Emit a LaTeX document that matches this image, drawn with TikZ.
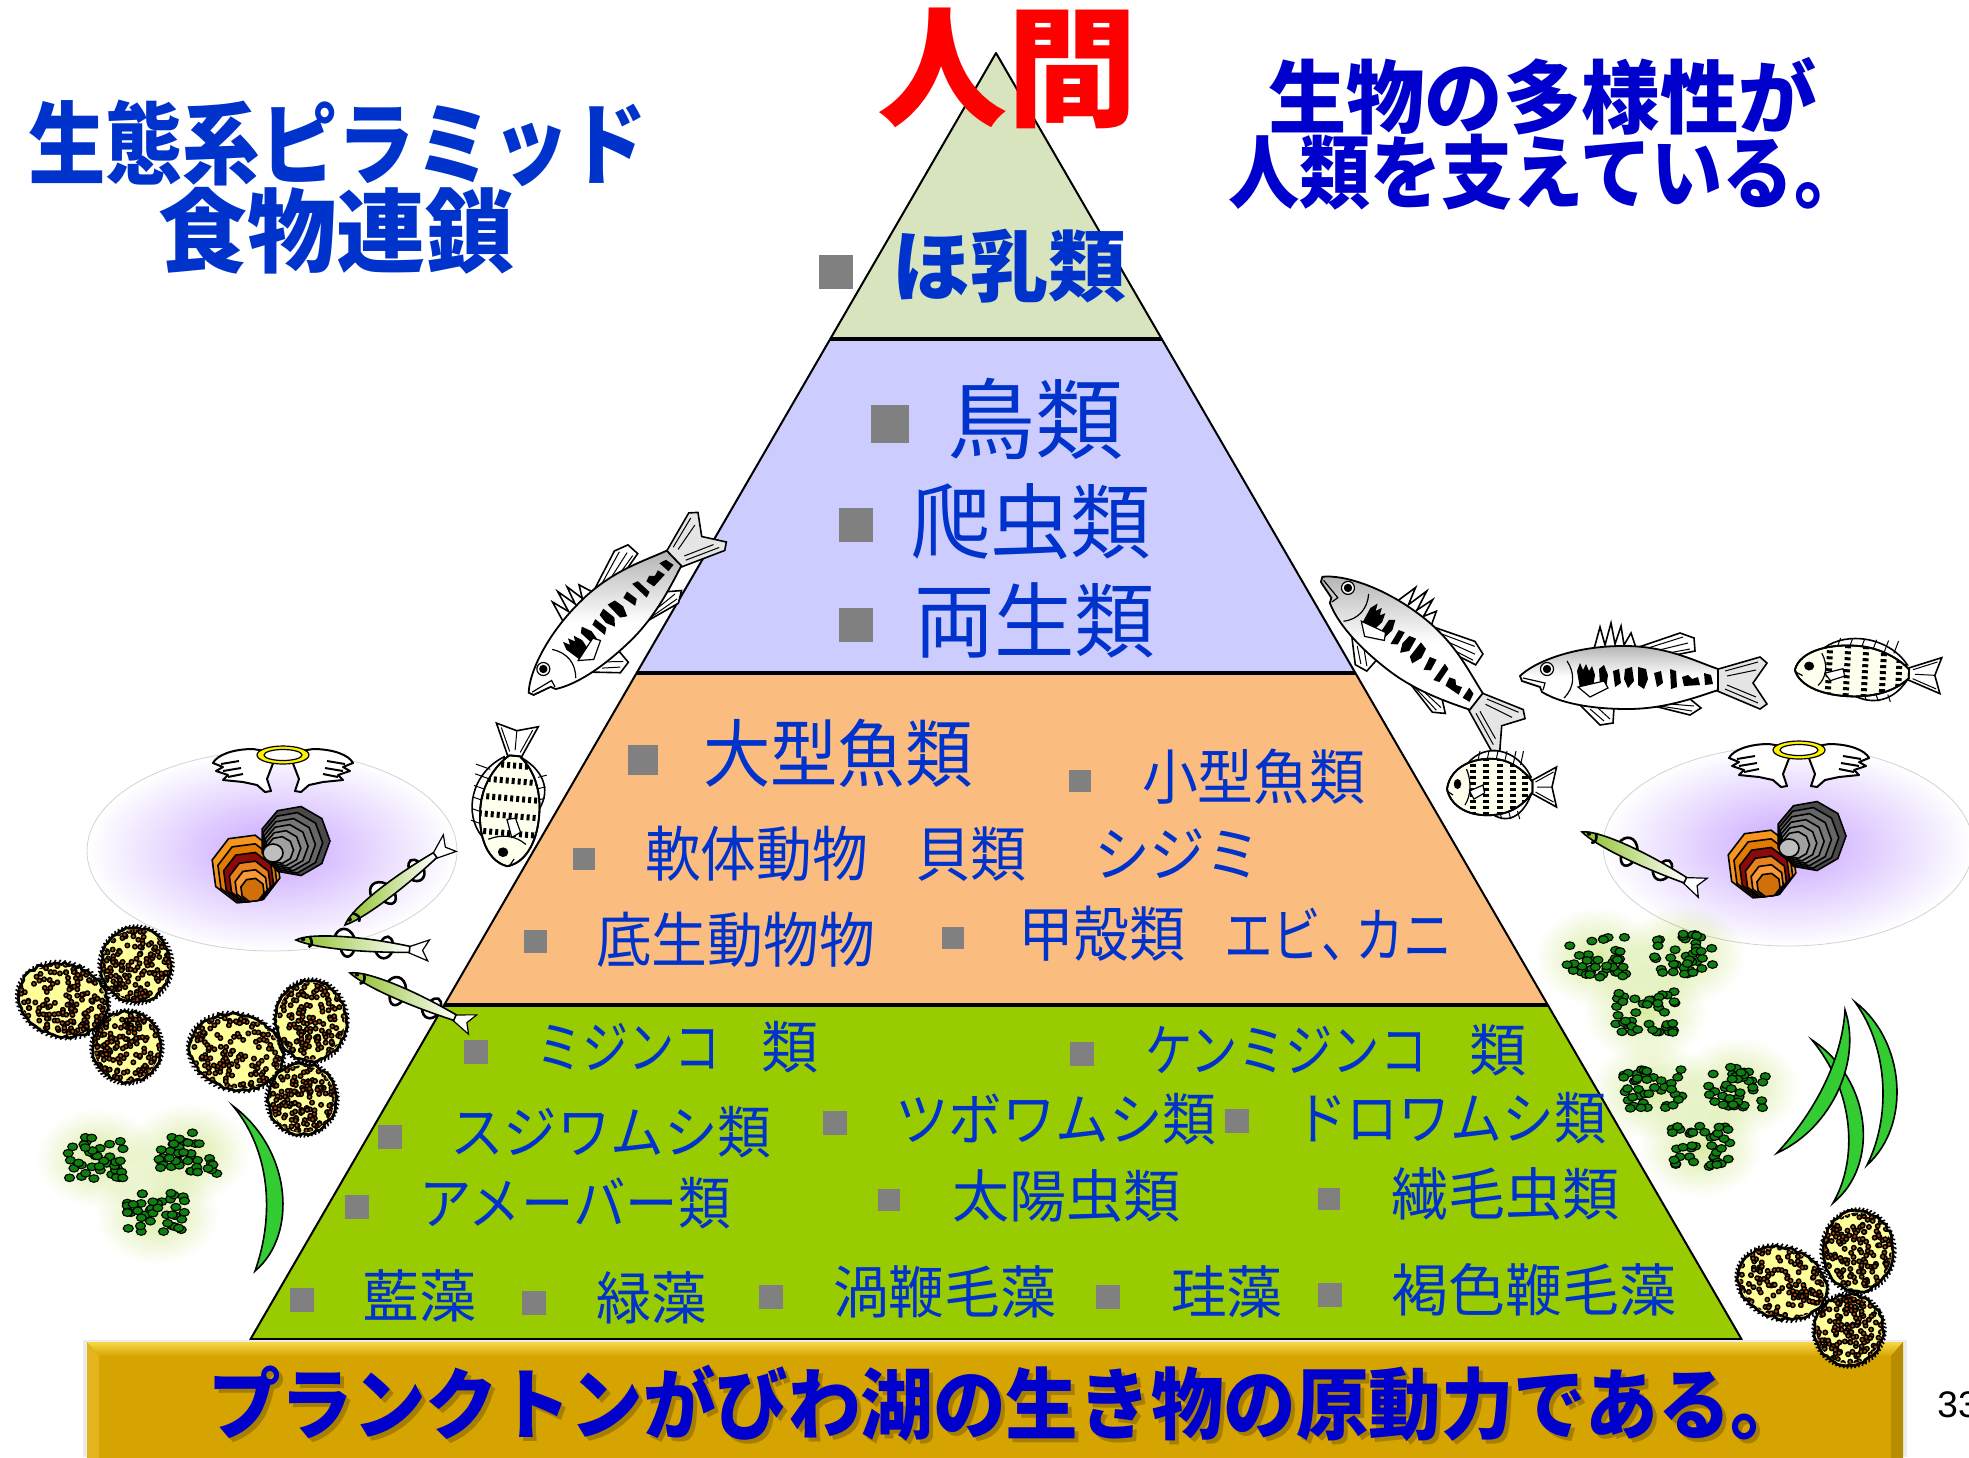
\documentclass[tikz,border=0pt]{standalone}
\usepackage{fontspec}
\usepackage{graphicx}
\newfontfamily\jp{Noto Sans CJK JP}
\newfontfamily\latin{Liberation Sans}
\usetikzlibrary{decorations.pathmorphing}

\definecolor{tblue}{HTML}{0033CC}
\definecolor{dblue}{HTML}{0000CC}
\definecolor{tierA}{HTML}{D7E4BD}
\definecolor{tierB}{HTML}{CCCCFF}
\definecolor{tierC}{HTML}{FBBC80}
\definecolor{tierD}{HTML}{99CC00}
\definecolor{sqgray}{HTML}{808080}
\definecolor{gold}{HTML}{D6A400}
\definecolor{goldtop}{HTML}{F6D84A}
\definecolor{goldleft}{HTML}{E4B41E}
\definecolor{goldright}{HTML}{B88C00}
\definecolor{blobyellow}{HTML}{FFFF99}
\definecolor{dotbrown}{HTML}{B04C00}
\definecolor{dotgreen}{HTML}{0F800F}
\definecolor{clumpglow}{HTML}{D8EBA0}
\definecolor{leafgreen}{HTML}{33CC33}
\definecolor{ayugreen}{HTML}{8CBF26}
\definecolor{ivory}{HTML}{FFFFEE}
\definecolor{glowviolet}{HTML}{C8A6FF}
\definecolor{shO1}{HTML}{F7961E}
\definecolor{shO2}{HTML}{E37A00}
\definecolor{shO3}{HTML}{8B0A0A}
\definecolor{shO4}{HTML}{E8801E}
\definecolor{shO5}{HTML}{F79A35}
\definecolor{shO6}{HTML}{D0700A}
\definecolor{shG1}{HTML}{4A4A4A}
\definecolor{shG2}{HTML}{666666}
\definecolor{shG3}{HTML}{777777}
\definecolor{shG4}{HTML}{858585}
\definecolor{shG5}{HTML}{939393}
\definecolor{shG6}{HTML}{A0A0A0}
\definecolor{shHinge}{HTML}{BEBEBE}

% horizontal squeeze of a text
\newcommand\hs[2]{\scalebox{#1}[1]{#2}}

% spiky colony of cells: cx, cy, rx, ry, rotation, seed
\newcommand\blob[6]{%
  \begin{scope}[shift={(#1,#2)}, rotate=#5]
    \foreach \t in {0,6,...,354}
      \draw[line width=0.8pt] (\t:#3 and #4) -- (\t+3:#3+3.5 and #4+3.5);
    \draw[line width=1.4pt, fill=blobyellow, decorate,
          decoration={random steps, segment length=2pt, amplitude=0.7pt}]
      (0,0) ellipse [x radius=#3, y radius=#4];
    \begin{scope}
      \clip (0,0) ellipse [x radius=#3-1.5, y radius=#4-1.5];
      \pgfmathsetseed{#6}
      \foreach \k in {1,...,190} {
        \pgfmathsetmacro\u{rand*#3}
        \pgfmathsetmacro\v{rand*#4}
        \filldraw[fill=dotbrown, draw=black, line width=0.75pt] (\u,\v) circle (2.2);
      }
    \end{scope}
  \end{scope}}

% soft glow behind a clump of green cells
\newcommand\clumpglow[2]{%
  \shade[inner color=clumpglow, outer color=white] (#1,#2) ellipse [x radius=62, y radius=50];}

% clump of green cells: cx, cy, seed
\newcommand\clump[3]{%
  \pgfmathsetseed{#3}
  \foreach \k in {1,...,40} {
    \pgfmathsetmacro\u{#1+rand*30}
    \pgfmathsetmacro\v{#2+rand*21}
    \filldraw[fill=dotgreen, draw=black, line width=0.55pt] (\u,\v) ellipse [x radius=5, y radius=3.8];
  }}

\tikzset{
  lbl/.style={anchor=west, inner sep=0pt, outer sep=0pt, text=tblue},
  tierfour/.style={lbl, font=\jp\fontsize{28.5pt}{30pt}\selectfont},
  tierthree/.style={lbl, font=\jp\fontsize{30pt}{32pt}\selectfont},
  tiertwo/.style={lbl, font=\jp\fontsize{41pt}{44pt}\selectfont},
  heavy/.style={anchor=west, inner sep=0pt, outer sep=0pt, font=\jp\bfseries\fontsize{#1}{#1}\selectfont},
  sqmark/.style={fill=sqgray, inner sep=0pt, minimum size=#1},
  rim/.style={line width=1pt, line join=round},
  divider/.style={line width=1.6pt},
  % large black bass, snout at the origin, body along +x
  bass/.pic={
    \draw[line width=0.8pt, fill=gray!20] (195,-5) -- (240,-18) -- (247,-12) -- (233,8) -- (247,29) -- (240,34) -- (195,15) -- cycle;
    \draw[line width=0.5pt] (205,-4) -- (238,-13) (207,1) -- (236,-5) (207,10) -- (236,22) (205,14) -- (238,28);
    \draw[line width=0.8pt, fill=white] (74,-26) -- (80,-48) -- (85,-30) -- (91,-52) -- (95,-31) -- (101,-49) -- (104,-30) -- (111,-42) -- (116,-27) -- cycle;
    \draw[line width=0.8pt, fill=white] (116,-27) -- (160,-42) -- (174,-37) -- (175,-24) -- (150,-19) -- cycle;
    \draw[line width=0.5pt] (128,-27) -- (163,-38) (135,-24) -- (168,-32) (143,-21) -- (170,-26);
    \draw[line width=0.8pt, fill=white] (130,30) -- (170,40) -- (181,33) -- (170,24) -- cycle;
    \draw[line width=0.5pt] (140,31) -- (172,36) (150,29) -- (174,31);
    \draw[line width=0.8pt, fill=white] (60,30) -- (80,50) -- (93,48) -- (94,32) -- cycle;
    \draw[line width=0.5pt] (70,34) -- (84,46) (78,33) -- (90,44);
    \draw[line width=0.9pt, top color=gray!60, bottom color=white, middle color=white]
      (0,1) .. controls (14,-13) and (55,-30) .. (108,-29)
      .. controls (148,-28) and (175,-14) .. (198,-6) -- (198,15)
      .. controls (172,24) and (142,34) .. (108,34)
      .. controls (70,34) and (40,28) .. (22,17) -- (20,12) -- (2,6) -- cycle;
    \draw[line width=0.6pt] (3,3) -- (25,8) -- (23,15);
    \draw[line width=0.6pt] (47,-14) .. controls (55,-2) and (55,12) .. (44,23);
    \draw[line width=0.6pt, fill=white] (27,-6) circle (6.5);
    \fill (27,-6) circle (4.2);
    % dark blotches along the flank
    \fill (57,-4) -- (60,-12) -- (63,-5) -- (66,-11) -- (69,-4) -- (72,-9) -- (75,0) -- (73,12) -- (60,14) -- cycle;
    \fill (79,-6) -- (84,-10) -- (88,0) -- (86,14) -- (80,10) -- cycle;
    \fill (93,-4) -- (99,-6) -- (101,8) -- (95,12) -- cycle;
    \fill (105,-6) -- (112,-8) -- (114,6) -- (108,13) -- (104,4) -- cycle;
    \fill (118,-8) -- (126,-6) -- (128,4) -- (124,14) -- (118,10) -- cycle;
    \fill (134,-2) -- (141,-4) -- (143,8) -- (137,12) -- cycle;
    \fill (150,-6) -- (156,-4) -- (157,12) -- (151,14) -- cycle;
    \fill (162,2) -- (168,0) -- (172,4) -- (178,2) -- (180,10) -- (164,11) -- cycle;
    \fill (184,-2) -- (191,0) -- (193,9) -- (185,10) -- cycle;
    \draw[line width=0.6pt, fill=white] (58,12) -- (84,6) -- (88,13) -- (70,22) -- cycle;
  },
  % striped sunfish, snout at the origin
  sunfish/.pic={
    \draw[line width=0.8pt, fill=white] (112,-6) -- (146,-20) -- (140,0) -- (146,20) -- (112,6) -- cycle;
    \draw[line width=0.5pt] (118,-5) -- (142,-15) (120,0) -- (140,0) (118,5) -- (142,15);
    \draw[line width=0.8pt, fill=white] (28,-24) .. controls (50,-44) and (92,-40) .. (112,-10) -- (100,-8) -- cycle;
    \foreach \x in {40,52,64,76,88,98}
      \draw[line width=0.5pt] (\x,-22) -- (\x+4,-36);
    \draw[line width=0.8pt, fill=white] (58,26) .. controls (80,38) and (100,30) .. (112,8) -- (100,10) -- cycle;
    \foreach \x in {70,82,94}
      \draw[line width=0.5pt] (\x,24) -- (\x+3,32);
    \draw[line width=0.9pt, fill=ivory] (0,2) .. controls (4,-20) and (35,-30) .. (65,-28)
      .. controls (90,-26) and (108,-12) .. (114,-5) -- (114,5)
      .. controls (105,15) and (90,26) .. (62,28) .. controls (30,30) and (5,20) .. (0,2) -- cycle;
    \begin{scope}
      \clip (0,2) .. controls (4,-20) and (35,-30) .. (65,-28)
        .. controls (90,-26) and (108,-12) .. (114,-5) -- (114,5)
        .. controls (105,15) and (90,26) .. (62,28) .. controls (30,30) and (5,20) .. (0,2) -- cycle;
      \foreach \x in {34,52,70,88,104}
        \draw[line width=3pt, dash pattern=on 1.5pt off 1.5pt] (\x,-35) -- (\x,35);
    \end{scope}
    \draw[line width=0.9pt] (0,2) .. controls (4,-20) and (35,-30) .. (65,-28)
      .. controls (90,-26) and (108,-12) .. (114,-5) -- (114,5)
      .. controls (105,15) and (90,26) .. (62,28) .. controls (30,30) and (5,20) .. (0,2) -- cycle;
    \draw[line width=0.6pt] (26,-18) .. controls (33,-5) and (32,8) .. (24,18);
    \draw[line width=0.6pt, fill=white] (30,4) -- (48,-2) -- (50,6) -- (36,12) -- cycle;
    \fill (14,-3) circle (5);
    \draw[line width=0.6pt] (0,4) -- (8,8);
  },
  % slender green fish, snout at the origin
  ayu/.pic={
    \draw[line width=1.3pt, fill=white] (38,-5) .. controls (40,-17) and (52,-19) .. (58,-7);
    \draw[line width=1.3pt, fill=white] (85,-5) .. controls (88,-13) and (95,-13) .. (97,-4);
    \draw[line width=1.3pt, fill=white] (45,4) .. controls (48,15) and (56,15) .. (59,5);
    \draw[line width=1.3pt, fill=white] (80,4) .. controls (84,14) and (94,13) .. (97,3);
    \draw[line width=0.6pt, fill=white] (112,-2) -- (133,-11) -- (127,0) -- (133,10) -- (112,3) -- cycle;
    \draw[line width=0.8pt, left color=ayugreen, right color=white]
      (0,0) .. controls (12,-8) and (60,-10) .. (114,-3) -- (114,3)
      .. controls (70,7) and (20,7) .. (0,0) -- cycle;
    \draw[line width=1.3pt] (13,-5) .. controls (17,0) and (17,4) .. (13,6);
    \fill (7,-1.5) circle (2.2);
  },
  % clam pair with wings and halo, halo centre at the origin
  haloclam/.pic={
    \shade[inner color=glowviolet, outer color=white] (-11,96) ellipse [x radius=185, y radius=100];
    \draw[gray!35, line width=0.4pt] (-11,96) ellipse [x radius=185, y radius=100];
    \foreach \s in {1,-1} {
      \begin{scope}[xscale=\s]
        \draw[line width=1pt, fill=white, line join=round] (-6,-2) -- (-30,-6)
          .. controls (-50,-6) and (-66,0) .. (-70,8) -- (-60,12) -- (-67,16) -- (-55,20)
          -- (-60,25) -- (-40,27) -- (-26,30) -- (-18,37) -- (-12,36) -- (-16,24) -- cycle;
        \draw[line width=1pt] (-62,9) -- (-44,6) (-60,16) -- (-42,13) (-55,22) -- (-40,19);
      \end{scope}
    }
    \draw[line width=0.6pt, fill=yellow] (0,0) ellipse [x radius=26, y radius=9];
    \draw[line width=0.6pt, fill=white] (0,0) ellipse [x radius=19, y radius=5.5];
    \foreach \c [count=\i from 0] in {shO1,shO2,shO3,shO4,shO5,shO6} {
      \pgfmathsetmacro\cx{-37+1.3*\i}
      \pgfmathsetmacro\cy{114+4.2*\i}
      \pgfmathsetmacro\rr{35-4.6*\i}
      \draw[line width=0.8pt, fill=\c] (\cx,\cy) +(15:\rr) -- +(60:\rr) -- +(105:\rr) -- +(150:\rr)
        -- +(195:\rr) -- +(240:\rr) -- +(285:\rr) -- +(330:\rr) -- cycle;
    }
    \foreach \c [count=\i from 0] in {shG1,shG2,shG3,shG4,shG5,shG6} {
      \pgfmathsetmacro\cx{12-3.0*\i}
      \pgfmathsetmacro\cy{86+1.8*\i}
      \pgfmathsetmacro\rr{35-4.3*\i}
      \draw[line width=0.8pt, fill=\c] (\cx,\cy) +(0:\rr) -- +(40:\rr) -- +(80:\rr) -- +(120:\rr)
        -- +(160:\rr) -- +(200:\rr) -- +(240:\rr) -- +(280:\rr) -- +(320:\rr) -- cycle;
    }
    \draw[line width=0.8pt, fill=shHinge] (-10,98) ellipse [x radius=10, y radius=9];
  }
}

\begin{document}
\begin{tikzpicture}[x=0.5pt, y=-0.5pt]
\useasboundingbox (0,0) rectangle (1969,1457);

% glowing clams
\pic at (283,755) {haloclam};
\pic at (1799,750) {haloclam};

% glows behind the green cell clumps
\begin{scope}[blend mode=multiply]
  \clumpglow{98}{1158}\clumpglow{188}{1153}\clumpglow{157}{1214}
  \clumpglow{1597}{957}\clumpglow{1683}{955}\clumpglow{1645}{1012}
  \clumpglow{1652}{1090}\clumpglow{1737}{1087}\clumpglow{1700}{1147}
\end{scope}

% pyramid
\coordinate (apex) at (996,53);
\coordinate (l1) at (830,339);  \coordinate (r1) at (1162,339);
\coordinate (l2) at (637,673);  \coordinate (r2) at (1355,673);
\coordinate (l3) at (444,1005); \coordinate (r3) at (1548,1005);
\coordinate (l4) at (250,1340); \coordinate (r4) at (1742,1340);
\fill[tierA] (apex) -- (r1) -- (l1) -- cycle;
\fill[tierB] (l1) -- (r1) -- (r2) -- (l2) -- cycle;
\fill[tierC] (l2) -- (r2) -- (r3) -- (l3) -- cycle;
\fill[tierD] (l3) -- (r3) -- (r4) -- (l4) -- cycle;
\draw[rim] (l4) -- (apex) -- (r4);
\draw[divider] (l1) -- (r1) (l2) -- (r2) (l3) -- (r3) (l4) -- (r4);

% fish
\pic[rotate=43.8] at (528,692) {bass};
\pic[rotate=-38] at (1323,576) {bass};
\pic at (1520,675) {bass};
\pic[rotate=-3, yscale=0.9] at (1795,668) {sunfish};
\pic[xscale=0.75] at (1447,787) {sunfish};
\pic[rotate=85, xscale=0.97, yscale=1.05] at (505,866) {sunfish};
\pic[rotate=37.8] at (345,925) {ayu};
\pic[rotate=-4.7] at (296,940) {ayu};
\pic[rotate=-23] at (350,973) {ayu};
\pic[rotate=-25] at (1582,832) {ayu};

% water-plant leaves
\draw[line width=0.8pt, fill=leafgreen] (233,1106) .. controls (292,1150) and (298,1235) .. (255,1271)
  .. controls (275,1215) and (270,1150) .. cycle;
\draw[line width=0.8pt, fill=leafgreen] (1855,1002) .. controls (1905,1040) and (1912,1125) .. (1867,1165)
  .. controls (1890,1120) and (1890,1050) .. cycle;
\draw[line width=0.8pt, fill=leafgreen] (1812,1040) .. controls (1872,1080) and (1880,1165) .. (1833,1203)
  .. controls (1858,1160) and (1855,1092) .. cycle;
\draw[line width=0.8pt, fill=leafgreen] (1777,1153) .. controls (1832,1128) and (1862,1060) .. (1845,1010)
  .. controls (1842,1060) and (1815,1112) .. cycle;

% gold banner
\fill[gray!15] (83,1340) rectangle (1907,1457);
\fill[gold] (87,1342) rectangle (1903,1470);
\shade[top color=goldtop, bottom color=gold] (87,1342) -- (1903,1342) -- (1891,1356) -- (99,1356) -- cycle;
\fill[goldleft] (87,1342) -- (99,1356) -- (99,1470) -- (87,1470) -- cycle;
\fill[goldright] (1903,1342) -- (1891,1356) -- (1891,1470) -- (1903,1470) -- cycle;

% colonies of cells
\blob{63}{1000}{45}{36}{-15}{11}
\blob{136}{965}{35}{37}{0}{12}
\blob{127}{1047}{34}{35}{0}{13}
\blob{236}{1052}{47}{37}{-15}{14}
\blob{311}{1021}{35}{40}{0}{15}
\blob{302}{1099}{34}{35}{0}{16}
\blob{1782}{1283}{45}{35}{-20}{17}
\blob{1858}{1251}{35}{40}{0}{18}
\blob{1849}{1330}{34}{35}{0}{19}

\clump{98}{1158}{21}\clump{188}{1153}{22}\clump{157}{1214}{23}
\clump{1597}{957}{24}\clump{1683}{955}{25}\clump{1645}{1012}{26}
\clump{1652}{1090}{27}\clump{1737}{1087}{28}\clump{1700}{1147}{29}

% titles
\node[heavy=45pt, text=tblue] (ttlA) at (28,143) {\hs{0.86}{生態系ピラミッド}};
\node[heavy=45.5pt, text=tblue] (ttlB) at (158,231) {\hs{0.98}{食物連鎖}};
\node[heavy=40pt, text=dblue] (ttlC) at (1268,96) {\hs{0.98}{生物の多様性が}};
\node[heavy=40pt, text=dblue] (ttlD) at (1228,172) {\hs{0.89}{人類を支えている。}};
\node[heavy=65pt, text=red] (human) at (877,68) {人間};

% top tier
\node[sqmark=17pt] (bA) at (836,272) {};
\node[heavy=39pt, text=tblue] (mammal) at (892,266) {ほ乳類};

% second tier
\node[sqmark=19pt] (bB1) at (890,424) {};
\node[tiertwo, font=\jp\fontsize{44pt}{46pt}\selectfont] (bird) at (947,419) {鳥類};
\node[sqmark=17pt] (bB2) at (856,525) {};
\node[tiertwo] (reptile) at (910,522) {\hs{0.98}{爬虫類}};
\node[sqmark=17pt] (bB3) at (856,625) {};
\node[tiertwo] (amphib) at (914,620) {\hs{0.98}{両生類}};

% third tier
\node[sqmark=15pt] (bC1) at (643,760) {};
\node[tierthree, font=\jp\fontsize{37pt}{38pt}\selectfont] (bigfish) at (703,753) {\hs{0.91}{大型魚類}};
\node[sqmark=11pt] (bC2) at (1080,781) {};
\node[tierthree] (smallfish) at (1142,777) {\hs{0.93}{小型魚類}};
\node[sqmark=11pt] (bC3) at (584,859) {};
\node[tierthree] (mollusc) at (645,854) {\hs{0.93}{軟体動物}};
\node[tierthree] (shells) at (915,854) {\hs{0.93}{貝類}};
\node[tierthree] (shijimi) at (1094,854) {\hs{0.93}{シジミ}};
\node[sqmark=11.5pt] (bC4) at (535,941) {};
\node[tierthree] (benthos) at (596,940) {\hs{0.93}{底生動物物}};
\node[sqmark=11pt] (bC5) at (953,938) {};
\node[tierthree] (crust) at (1018,934) {\hs{0.93}{甲殻類}};
\node[tierthree] (shrimp) at (1224,934) {\hs{0.81}{エビ、\kern-0.3em カニ}};

% bottom tier
\node[sqmark=12pt] (bD1) at (476,1052) {};
\node[tierfour] (daphnia) at (536,1047) {\hs{0.81}{ミジンコ}};
\node[tierfour] (daphniaB) at (761,1047) {類};
\node[sqmark=12pt] (bD2) at (1082,1054) {};
\node[tierfour] (cyclops) at (1145,1050) {\hs{0.83}{ケンミジンコ}};
\node[tierfour] (cyclopsB) at (1469,1050) {類};
\node[sqmark=12pt] (bD3) at (390,1137) {};
\node[tierfour] (rotA) at (450,1132) {\hs{0.94}{スジワムシ類}};
\node[sqmark=12pt] (bD4) at (835,1123) {};
\node[tierfour] (rotB) at (895,1119) {\hs{0.94}{ツボワムシ類}};
\node[sqmark=12pt] (bD5) at (1237,1121) {};
\node[tierfour] (rotC) at (1295,1118) {\hs{0.91}{ドロワムシ類}};
\node[sqmark=12pt] (bD6) at (357,1207) {};
\node[tierfour] (amoeba) at (419,1203) {\hs{0.92}{アメーバー類}};
\node[sqmark=11pt] (bD7) at (889,1200) {};
\node[tierfour] (helio) at (952,1196) {太陽虫類};
\node[sqmark=11pt] (bD8) at (1329,1199) {};
\node[tierfour] (cilia) at (1391,1194) {繊毛虫類};
\node[sqmark=12pt] (bD9) at (302,1300) {};
\node[tierfour] (bluegreen) at (362,1296) {藍藻};
\node[sqmark=12pt] (bD10) at (534,1303) {};
\node[tierfour] (green) at (596,1298) {\hs{0.97}{緑藻}};
\node[sqmark=12pt] (bD11) at (771,1297) {};
\node[tierfour] (dino) at (833,1292) {\hs{0.98}{渦鞭毛藻}};
\node[sqmark=12pt] (bD12) at (1108,1297) {};
\node[tierfour] (diatom) at (1171,1292) {\hs{0.98}{珪藻}};
\node[sqmark=12pt] (bD13) at (1330,1295) {};
\node[tierfour] (brown) at (1391,1290) {褐色鞭毛藻};

% banner text
\node[heavy=39pt, text=black, opacity=0.22] (bannershadow) at (212,1407) {\hs{0.93}{プランクトンがびわ湖の生き物の原動力である。}};
\node[heavy=39pt, text=dblue] (banner) at (208,1403) {\hs{0.93}{プランクトンがびわ湖の生き物の原動力である。}};

\node[anchor=west, inner sep=0pt, font=\latin\fontsize{18.5pt}{20pt}\selectfont] (pageno) at (1937,1405) {33};
\end{tikzpicture}
\end{document}
